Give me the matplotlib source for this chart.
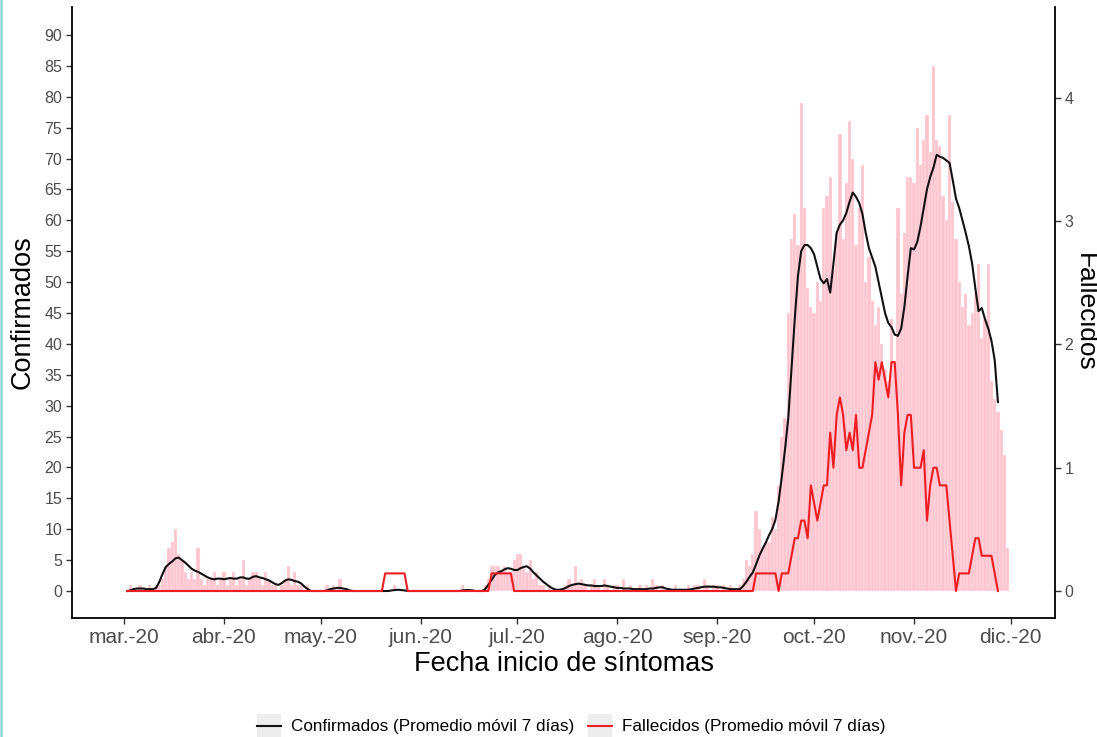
import matplotlib
matplotlib.use('Agg')
import matplotlib.pyplot as plt
import numpy as np
import pandas as pd
from matplotlib.lines import Line2D
from matplotlib.patches import Rectangle
from matplotlib.legend_handler import HandlerLine2D

plt.rcParams['font.family'] = ['Liberation Sans', 'DejaVu Sans']

# ---------------- data ----------------
fecha_barras_inicio = '2020-03-01'
confirmados_diarios = [
    0, 0, 1, 0, 0, 1, 0, 0, 1, 0,          # d0-9
    1, 1, 2, 4, 7, 8, 10, 6, 5, 3,         # d10-19
    2, 3, 2, 7, 2, 1, 2, 2, 3, 1,          # d20-29
    2, 3, 1, 2, 3, 1, 2, 5, 1, 2,          # d30-39
    3, 3, 2, 1, 3, 2, 1, 1, 0, 1,          # d40-49
    2, 4, 1, 3, 1, 1, 0, 1, 0, 0,          # d50-59
    0, 0, 0, 1, 0, 1, 0, 2, 0, 0,          # d60-69
    0, 0, 0, 0, 0, 0, 0, 0, 0, 0,          # d70-79
    0, 0, 0, 0, 1, 0, 0, 0, 0, 0,          # d80-89
    0, 0, 0, 0, 0, 0, 0, 0, 0, 0,          # d90-99
    0, 0, 0, 0, 0, 1, 0, 0, 0, 0,          # d100-109
    0, 0, 1, 2, 4, 4, 4, 3, 4, 3,          # d110-119
    3, 5, 6, 6, 4, 3, 5, 2, 3, 1,          # d120-129
    1, 0, 1, 0, 0, 0, 0, 1, 2, 1,          # d130-139
    4, 1, 2, 1, 0, 1, 2, 1, 0, 2,          # d140-149
    1, 0, 1, 1, 0, 2, 0, 1, 0, 0,          # d150-159
    1, 0, 1, 0, 2, 1, 0, 1, 0, 0,          # d160-169
    0, 1, 0, 0, 0, 1, 0, 1, 1, 0,          # d170-179
    2, 1, 0, 1, 1, 0, 1, 0, 1, 0,          # d180-189
    0, 1, 2, 5, 4, 6, 13, 10, 7, 8,        # d190-199
    8, 12, 10, 17, 25, 28, 45, 57, 61, 56, # d200-209
    79, 62, 49, 46, 45, 50, 47, 62, 64, 67,  # d210-219
    52, 58, 74, 57, 66, 76, 70, 56, 62, 69,  # d220-229
    50, 54, 47, 43, 46, 40, 36, 34, 44, 37,  # d230-239
    62, 48, 58, 67, 67, 66, 75, 69, 73, 77,  # d240-249
    71, 85, 73, 72, 64, 60, 77, 63, 57, 50,  # d250-259
    46, 48, 43, 45, 48, 53, 41, 44, 53, 34,  # d260-269
    31, 29, 26, 22, 7,                       # d270-274
]

fecha_lineas_inicio = '2020-03-02'
confirmados_promedio = [
    0.0, 0.1, 0.3, 0.4, 0.4, 0.4, 0.3, 0.3, 0.3,             # d1-9
    0.5, 1.5, 2.8, 3.9, 4.4, 4.8, 5.3, 5.4, 5.0, 4.6,        # d10-19
    4.1, 3.6, 3.3, 3.1, 2.8, 2.5, 2.2, 2.0, 1.9, 2.0,        # d20-29
    2.0, 1.9, 2.0, 2.1, 2.0, 2.0, 2.2, 2.2, 2.0, 2.0,        # d30-39
    2.3, 2.4, 2.2, 2.1, 1.9, 1.7, 1.4, 1.1, 1.0, 1.3,        # d40-49
    1.7, 1.9, 1.8, 1.6, 1.5, 1.2, 0.7, 0.3, 0.0, 0.0,        # d50-59
    0.0, 0.0, 0.0, 0.1, 0.3, 0.4, 0.5, 0.5, 0.4, 0.3,        # d60-69
    0.1, 0.0, 0.0, 0.0, 0.0, 0.0, 0.0, 0.0, 0.0, 0.0,        # d70-79
    0.0, 0.0, 0.0, 0.1, 0.15, 0.2, 0.15, 0.1, 0.0, 0.0,      # d80-89
    0.0, 0.0, 0.0, 0.0, 0.0, 0.0, 0.0, 0.0, 0.0, 0.0,        # d90-99
    0.0, 0.0, 0.0, 0.0, 0.0, 0.1, 0.15, 0.15, 0.1, 0.0,      # d100-109
    0.0, 0.0, 0.3, 1.0, 1.8, 2.6, 3.0, 3.2, 3.5, 3.7,        # d110-119
    3.6, 3.4, 3.4, 3.7, 3.9, 4.0, 3.6, 3.0, 2.5, 2.0,        # d120-129
    1.5, 1.1, 0.7, 0.4, 0.2, 0.2, 0.3, 0.5, 0.8, 1.0,        # d130-139
    1.1, 1.2, 1.1, 1.0, 0.9, 0.9, 0.8, 0.8, 0.8, 0.9,        # d140-149
    0.8, 0.7, 0.6, 0.5, 0.5, 0.4, 0.4, 0.4, 0.3, 0.3,        # d150-159
    0.3, 0.3, 0.3, 0.4, 0.4, 0.5, 0.6, 0.6, 0.4, 0.3,        # d160-169
    0.2, 0.2, 0.2, 0.2, 0.2, 0.2, 0.3, 0.4, 0.5, 0.6,        # d170-179
    0.7, 0.7, 0.7, 0.7, 0.6, 0.6, 0.5, 0.4, 0.3, 0.3,        # d180-189
    0.3, 0.3, 0.8, 1.5, 2.3, 3.0, 4.3, 5.7, 6.8, 7.8,        # d190-199
    9.0, 10.0, 11.5, 14.5, 18.5, 23.0, 28.0, 36.0, 44.0, 51.0,   # d200-209
    55.0, 56.0, 56.0, 55.5, 54.5, 52.5, 50.5, 49.8, 50.5, 48.3,  # d210-219
    53.0, 58.0, 59.3, 60.0, 61.2, 63.0, 64.5, 63.8, 62.8, 61.0,  # d220-229
    58.0, 55.5, 54.0, 52.5, 50.0, 47.5, 45.0, 43.4, 42.7, 41.5,  # d230-239
    41.3, 42.5, 46.0, 51.0, 55.5, 55.3, 56.5, 59.0, 62.0, 65.0,  # d240-249
    67.0, 68.5, 70.6, 70.3, 70.1, 69.7, 69.3, 66.5, 63.5, 62.0,  # d250-259
    60.0, 58.0, 55.8, 53.0, 49.0, 45.3, 45.8, 44.0, 42.5, 40.5,  # d260-269
    37.4, 30.6,                                                   # d270-271
]

# fallecidos: promedio movil 7 dias, expresado en septimos (1 = 1/7)
fallecidos_septimos = (
    [0] * 79 +                       # d1-79
    [0, 1, 1, 1, 1, 1, 1, 1, 0] +    # d80-88
    [0] * 24 +                       # d89-112
    [0, 1, 1, 1, 1, 1, 1, 1, 0] +    # d113-121
    [0] * 73 +                       # d122-194
    [0, 1, 1, 1, 1, 1, 1, 1, 0, 1,   # d195-204
     1, 1, 2, 3, 3, 4, 4, 3, 6, 5,   # d205-214
     4, 5, 6, 6, 9, 7, 10, 11, 10, 8,  # d215-224
     9, 8, 10, 7, 7, 8, 9, 10, 13, 12,  # d225-234
     13, 12, 11, 13, 13, 10, 6, 9, 10, 10,  # d235-244
     7, 7, 7, 8, 4, 6, 7, 7, 6, 6,   # d245-254
     6, 4, 2, 0, 1, 1, 1, 1, 2, 3,   # d255-264
     3, 2, 2, 2, 2, 1, 0]            # d265-271
)

meses_etiquetas = ['mar.-20', 'abr.-20', 'may.-20', 'jun.-20', 'jul.-20',
                   'ago.-20', 'sep.-20', 'oct.-20', 'nov.-20', 'dic.-20']
meses_fechas = ['2020-03-01', '2020-04-01', '2020-05-01', '2020-06-01', '2020-07-01',
                '2020-08-01', '2020-09-01', '2020-10-01', '2020-11-01', '2020-12-01']

# ---------------- figure ----------------
W, H = 1097, 737
fig = plt.figure(figsize=(W / 100, H / 100), dpi=100)
fig.patch.set_facecolor('white')

ax = fig.add_axes([72 / W, 1 - 618 / H, (1055 - 72) / W, (618 - 7) / H])

fechas_barras = pd.date_range(fecha_barras_inicio, periods=len(confirmados_diarios), freq='D')
fechas_lineas = pd.date_range(fecha_lineas_inicio, periods=len(confirmados_promedio), freq='D')
fallecidos_promedio = np.array(fallecidos_septimos, dtype=float) / 7.0

ax.bar(fechas_barras, confirmados_diarios, width=1.0, color='#FFC4CE',
       edgecolor='#FFEFF2', linewidth=0.25, zorder=1)
l1, = ax.plot(fechas_lineas, confirmados_promedio, color='#111111', lw=1.5, zorder=3)

ax2 = ax.twinx()
l2, = ax2.plot(fechas_lineas, fallecidos_promedio, color='#EE1D23', lw=1.5, zorder=3)

x0 = pd.Timestamp('2020-03-01')
ax.set_xlim(x0 - pd.Timedelta(days=16.1), x0 + pd.Timedelta(days=288.7))
ax.set_ylim(-4.37, 94.53)
ax2.set_ylim(-0.219, 4.738)

ax.set_yticks(np.arange(0, 91, 5))
ax2.set_yticks(np.arange(0, 5, 1))
ax.set_xticks(pd.to_datetime(meses_fechas))
ax.set_xticklabels(meses_etiquetas)

for a in (ax, ax2):
    a.spines['top'].set_visible(False)
    for s in a.spines.values():
        s.set_color('black')
        s.set_linewidth(1.3)
ax.spines['right'].set_visible(False)
ax2.spines['left'].set_visible(False)
ax2.spines['bottom'].set_visible(False)

ax.tick_params(axis='y', direction='out', length=4, width=1, color='#333333',
               labelcolor='#4D4D4D', labelsize=11.5, pad=3)
ax.tick_params(axis='x', direction='out', length=4, width=1, color='#333333',
               labelcolor='#4D4D4D', labelsize=15, pad=3)
ax2.tick_params(axis='y', direction='out', length=4, width=1, color='#333333',
                labelcolor='#4D4D4D', labelsize=11.5, pad=3)

ax.set_ylabel('Confirmados', fontsize=19.5, color='black', labelpad=6)
ax.set_xlabel('Fecha inicio de síntomas', fontsize=19.5, color='black', labelpad=3)
ax2.set_ylabel('Fallecidos', fontsize=19, color='black', rotation=-90, labelpad=17)


class KeyBg(HandlerLine2D):
    def create_artists(self, legend, orig_handle, xdescent, ydescent, width, height,
                       fontsize, trans):
        arts = super().create_artists(legend, orig_handle, xdescent, ydescent, width,
                                      height, fontsize, trans)
        r = Rectangle((-xdescent, -ydescent - height * 0.45), width, height * 1.9,
                      facecolor='#EDEDED', edgecolor='none', transform=trans)
        return [r] + list(arts)


fig.legend([l1, l2],
           ['Confirmados (Promedio móvil 7 días)', 'Fallecidos (Promedio móvil 7 días)'],
           loc='center', bbox_to_anchor=(571 / W, 1 - 727 / H), ncol=2, frameon=False,
           fontsize=12.3, handlelength=1.4, handletextpad=0.6, columnspacing=0.8,
           handler_map={Line2D: KeyBg()})

fig.add_artist(Line2D([0.001, 0.001], [0, 1], color='#8FD6DA', lw=1.8,
                      transform=fig.transFigure))

fig.savefig('out.png', dpi=100)
